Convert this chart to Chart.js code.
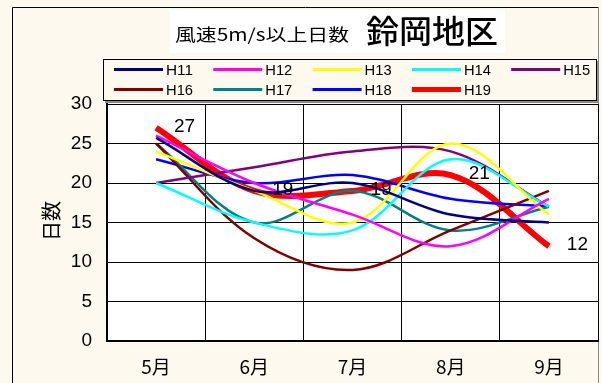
<!DOCTYPE html>
<html>
<head>
<meta charset="utf-8">
<script src="https://cdn.jsdelivr.net/npm/chart.js@4/dist/chart.umd.min.js"></script>
<style>
  html, body { margin: 0; padding: 0; background: #fdf9ef; }
  #wrap { width: 602px; height: 383px; position: relative; }
</style>
</head>
<body>
<div id="wrap"><canvas id="c" width="602" height="383"></canvas></div>
<script>
// Monthly count of days with wind speed >= 5 m/s, Suzuoka district
const months = ['5月', '6月', '7月', '8月', '9月'];

const H11 = [25.7, 19, 20, 16, 15];
const H12 = [26, 20, 16, 12, 18];
const H13 = [24, 19, 15, 25, 16];
const H14 = [20, 15, 14, 23, 17];
const H15 = [20, 22, 24, 24, 17];
const H16 = [25, 13, 9, 14, 19];
const H17 = [25, 15, 19, 14, 17];
const H18 = [23, 20, 21, 18, 17];
const H19 = [27, 19, 19, 21, 12];

const seriesNames = ['H11', 'H12', 'H13', 'H14', 'H15', 'H16', 'H17', 'H18', 'H19'];
const seriesValues = [H11, H12, H13, H14, H15, H16, H17, H18, H19];
const seriesColors = ['#000080', '#ff00ff', '#ffff00', '#00ffff', '#800080',
                      '#800000', '#008080', '#0000ff', '#ff0000'];
const seriesWidths = [2.5, 2.5, 2.5, 2.5, 2.5, 2.5, 2.5, 2.5, 6];

const titleSub = '風速5m/s以上日数';
const titleMain = '鈴岡地区';
const yAxisTitle = '日数';
const labeledSeries = 'H19';

const CREAM = '#fdf9ef';
const NUM_FONT = "'Liberation Sans', 'Noto Sans CJK JP', sans-serif";
const JP_FONT = "'Noto Sans CJK JP', 'Liberation Sans', sans-serif";

// Draw text squeezed/stretched to a given width
function fitText(ctx, text, x, y, width) {
  const w = ctx.measureText(text).width;
  ctx.save();
  ctx.translate(x, y);
  ctx.scale(width / w, 1);
  ctx.fillText(text, 0, 0);
  ctx.restore();
}

const decorPlugin = {
  id: 'decor',
  beforeDraw(chart) {
    const { ctx, chartArea: a } = chart;
    ctx.save();
    ctx.fillStyle = CREAM;
    ctx.fillRect(0, 0, chart.width, chart.height);
    // outer frame
    ctx.strokeStyle = '#000';
    ctx.lineWidth = 1;
    ctx.beginPath();
    ctx.moveTo(12.5, chart.height + 2);
    ctx.lineTo(12.5, 7.5);
    ctx.lineTo(598.5, 7.5);
    ctx.stroke();
    ctx.strokeStyle = '#888';
    ctx.beginPath();
    ctx.moveTo(598.5, 7.5);
    ctx.lineTo(598.5, chart.height + 2);
    ctx.stroke();
    // plot background
    ctx.fillStyle = '#fff';
    ctx.fillRect(a.left, a.top, a.right - a.left, a.bottom - a.top);

    // title
    ctx.fillStyle = '#fff';
    ctx.fillRect(170, 10, 335, 43);
    ctx.fillStyle = '#000';
    ctx.textBaseline = 'middle';
    ctx.textAlign = 'left';
    ctx.font = '17px ' + JP_FONT;
    fitText(ctx, titleSub, 175, 35, 174);
    ctx.font = '500 32px ' + JP_FONT;
    fitText(ctx, titleMain, 366, 31, 132);

    // y axis title (rotated)
    ctx.save();
    ctx.translate(51, 221);
    ctx.rotate(-Math.PI / 2);
    ctx.textAlign = 'center';
    ctx.font = '20px ' + JP_FONT;
    ctx.fillText(yAxisTitle, 0, 0);
    ctx.restore();

    // legend box with shadow
    const lx = 103, ly = 59, lw = 494, lh = 42;
    ctx.fillStyle = '#8a8a8a';
    ctx.fillRect(lx + 2, ly + 2, lw, lh);
    ctx.fillStyle = CREAM;
    ctx.fillRect(lx, ly, lw, lh);
    ctx.strokeStyle = '#000';
    ctx.lineWidth = 1;
    ctx.strokeRect(lx + 0.5, ly + 0.5, lw - 1, lh - 1);
    ctx.font = '15px ' + NUM_FONT;
    ctx.textAlign = 'left';
    ctx.textBaseline = 'middle';
    chart.data.datasets.forEach((ds, i) => {
      const col = i % 5, row = Math.floor(i / 5);
      const x0 = 114 + col * 99.3;
      const y0 = 69.5 + row * 20;
      ctx.strokeStyle = ds.borderColor;
      ctx.lineWidth = ds.borderWidth > 3 ? 5 : 3;
      ctx.lineCap = 'butt';
      ctx.beginPath();
      ctx.moveTo(x0, y0);
      ctx.lineTo(x0 + 49, y0);
      ctx.stroke();
      ctx.fillStyle = '#000';
      fitText(ctx, ds.label, x0 + 52, y0 + 1, 27);
    });
    ctx.restore();
  },
  afterDatasetsDraw(chart) {
    const { ctx } = chart;
    const idx = chart.data.datasets.findIndex(d => d.label === labeledSeries);
    if (idx < 0) return;
    const meta = chart.getDatasetMeta(idx);
    const vals = chart.data.datasets[idx].data;
    ctx.save();
    ctx.fillStyle = '#000';
    ctx.font = '19px ' + NUM_FONT;
    ctx.textAlign = 'center';
    ctx.textBaseline = 'middle';
    meta.data.forEach((pt, i) => {
      ctx.fillText(String(vals[i]), pt.x + 28.5, pt.y - 1);
    });
    ctx.restore();
  }
};

const datasets = seriesNames.map((name, i) => ({
  label: name,
  data: seriesValues[i],
  borderColor: seriesColors[i],
  backgroundColor: seriesColors[i],
  borderWidth: seriesWidths[i],
  pointRadius: 0,
  tension: 0.35,
  fill: false,
  borderCapStyle: 'butt'
}));

new Chart(document.getElementById('c'), {
  type: 'line',
  data: { labels: months, datasets },
  options: {
    responsive: false,
    animation: false,
    devicePixelRatio: 1,
    layout: { padding: { left: 0, top: 104, right: 4, bottom: 0 } },
    plugins: { legend: { display: false }, tooltip: { enabled: false }, title: { display: false } },
    scales: {
      x: {
        offset: true,
        grid: { offset: true, color: '#000', lineWidth: 1, drawTicks: false },
        border: { color: '#000', width: 2 },
        ticks: { color: '#000', font: { family: JP_FONT, size: 19 }, padding: 14 },
        afterFit(s) { s.height = 42; }
      },
      y: {
        min: 0, max: 30,
        grid: { color: '#000', lineWidth: 1, drawTicks: false },
        border: { color: '#000', width: 2 },
        ticks: { stepSize: 5, color: '#000', font: { family: NUM_FONT, size: 19 }, padding: 15 },
        afterFit(s) { s.width = 107; }
      }
    }
  },
  plugins: [decorPlugin]
});
</script>
</body>
</html>
